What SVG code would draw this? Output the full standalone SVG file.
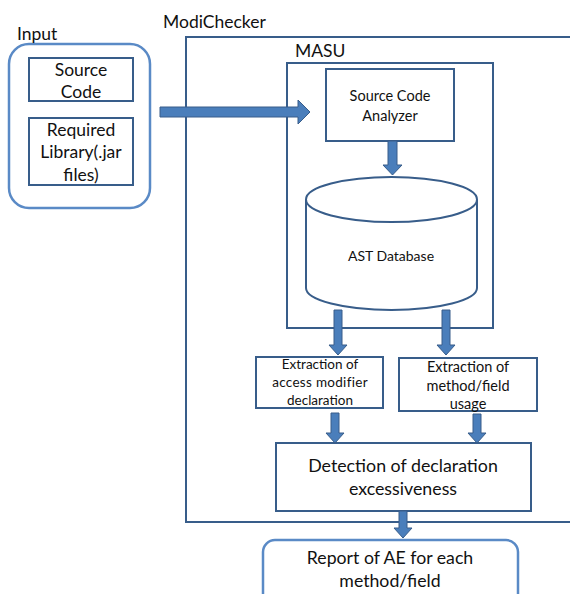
<svg xmlns="http://www.w3.org/2000/svg" width="570" height="594" viewBox="0 0 570 594">
<style>
text{font-family:Lato,"Open Sans","Liberation Sans",sans-serif;fill:#111;}
.c{text-anchor:middle;}
.box{fill:#fff;stroke:#385d8a;stroke-width:2;}
.frame{fill:none;stroke:#385d8a;stroke-width:2;}
.rnd{fill:#fff;stroke:#5a8ac6;stroke-width:2.5;}
.arr{fill:#4a7ebb;stroke:#385d8a;stroke-width:1;}
</style>
<rect width="570" height="594" fill="#fff"/>
<g id="modichecker"><rect class="frame" x="186" y="37" width="400" height="485"/><text x="163" y="28" font-size="17.5">ModiChecker</text></g>
<g id="masu"><rect class="frame" x="287" y="63" width="206" height="265"/><text x="295" y="57" font-size="17.5">MASU</text></g>
<g id="input"><rect class="rnd" x="9" y="44" width="141" height="164" rx="20"/><text x="17" y="40" font-size="17.5">Input</text></g>
<g id="source-code"><rect class="box" x="29" y="58" width="104" height="43"/><text class="c" x="81" y="76" font-size="17.5">Source</text><text class="c" x="81" y="98" font-size="17.5">Code</text></g>
<g id="required-library"><rect class="box" x="29" y="118" width="104" height="67"/><text class="c" x="81" y="136" font-size="17.5">Required</text><text class="c" x="81" y="158" font-size="17.5">Library(.jar</text><text class="c" x="81" y="181" font-size="17.5">files)</text></g>
<g id="analyzer"><rect class="box" x="326" y="69" width="128" height="72"/><text class="c" x="390" y="101" font-size="14.5">Source Code</text><text class="c" x="390" y="121" font-size="14.5">Analyzer</text></g>
<g id="ast-database"><path class="box" d="M306,199.5 L306,288 A85.5,22 0 0 0 477,288 L477,199.5"/><ellipse class="box" cx="391.5" cy="199.5" rx="85.5" ry="22.5"/><text class="c" x="391" y="261" font-size="14">AST Database</text></g>
<g id="extract-access"><rect class="box" x="256" y="357" width="127" height="51"/><text class="c" x="320" y="369" font-size="13.5">Extraction of</text><text class="c" x="320" y="387" font-size="13.5" letter-spacing="0.3">access modifier</text><text class="c" x="320" y="405" font-size="13.5">declaration</text></g>
<g id="extract-usage"><rect class="box" x="399" y="358" width="138" height="53"/><text class="c" x="468" y="372" font-size="14.5">Extraction of</text><text class="c" x="468" y="391" font-size="14.5">method/field</text><text class="c" x="468" y="409" font-size="14.5">usage</text></g>
<g id="detection"><rect class="box" x="276" y="443" width="255" height="68"/><text class="c" x="403" y="472" font-size="17.8">Detection of declaration</text><text class="c" x="403" y="495" font-size="17.8">excessiveness</text></g>
<g id="report"><rect class="rnd" x="263" y="540" width="255" height="70" rx="12"/><text class="c" x="390" y="564" font-size="17.7">Report of AE for each</text><text class="c" x="390" y="587" font-size="17.7">method/field</text></g>
<g id="connectors">
<path class="arr" d="M160,107 H298 V100 L310,112 L298,124 V117 H160 Z"/>
<path class="arr" d="M388,141 H397 V165 H402 L392.5,175 L383,165 H388 Z"/>
<path class="arr" d="M334,310 H342 V345 H347 L338,355 L329,345 H334 Z"/>
<path class="arr" d="M442,310 H450 V345 H455 L446,355 L437,345 H442 Z"/>
<path class="arr" d="M331,413 H339 V433 H344 L335,443 L326,433 H331 Z"/>
<path class="arr" d="M473,414 H481 V433 H486 L477,443 L468,433 H473 Z"/>
<path class="arr" d="M399,511 H407 V528 H412 L403,538 L394,528 H399 Z"/>
</g>
</svg>
